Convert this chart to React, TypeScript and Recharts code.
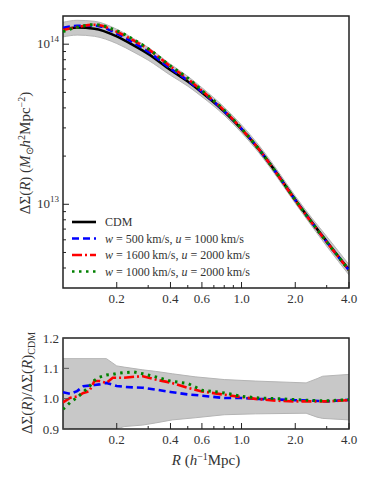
import React from 'react';
import {
  ComposedChart, Line, Area, XAxis, YAxis, ReferenceArea, Legend, Label,
} from 'recharts';

// radius grid for the upper panel (h^-1 Mpc)
const rTop = [0.1, 0.12, 0.15, 0.2, 0.25, 0.3, 0.4, 0.5, 0.6, 0.8, 1.0, 1.25, 1.6, 2.0, 2.5, 3.0, 3.5, 4.0];
const sigmaCdm = [1.24e14, 1.27e14, 1.25e14, 1.12e14, 9.8e13, 8.7e13, 6.9e13, 5.85e13, 5.0e13, 3.8e13, 2.95e13, 2.21e13, 1.525e13, 1.067e13, 7.63e12, 5.86e12, 4.7e12, 3.89e12];
const sigmaW500 = [1.266e14, 1.302e14, 1.306e14, 1.167e14, 1.016e14, 8.99e13, 7.05e13, 5.93e13, 5.05e13, 3.81e13, 2.96e13, 2.21e13, 1.52e13, 1.062e13, 7.58e12, 5.81e12, 4.67e12, 3.87e12];
const sigmaW1600 = [1.225e14, 1.279e14, 1.323e14, 1.197e14, 1.051e14, 9.31e13, 7.27e13, 6.06e13, 5.12e13, 3.85e13, 2.96e13, 2.21e13, 1.515e13, 1.057e13, 7.56e12, 5.81e12, 4.67e12, 3.87e12];
const sigmaW1000 = [1.197e14, 1.275e14, 1.325e14, 1.213e14, 1.066e14, 9.38e13, 7.3e13, 6.14e13, 5.14e13, 3.87e13, 2.97e13, 2.21e13, 1.525e13, 1.064e13, 7.58e12, 5.82e12, 4.68e12, 3.88e12];
const sigmaLo = [1.11e14, 1.14e14, 1.12e14, 1.01e14, 8.9e13, 7.95e13, 6.4e13, 5.47e13, 4.7e13, 3.6e13, 2.8e13, 2.1e13, 1.45e13, 1.015e13, 7.2e12, 5.47e12, 4.38e12, 3.62e12];
const sigmaHi = [1.37e14, 1.41e14, 1.39e14, 1.24e14, 1.08e14, 9.55e13, 7.5e13, 6.3e13, 5.35e13, 4.04e13, 3.13e13, 2.34e13, 1.61e13, 1.125e13, 8.1e12, 6.3e12, 5.07e12, 4.2e12];

// ratio panel
const rRatio = [0.1, 0.11, 0.12, 0.13, 0.14, 0.15, 0.16, 0.175, 0.19, 0.2, 0.22, 0.25, 0.28, 0.33, 0.4, 0.5, 0.6, 0.8, 1.0, 1.25, 1.6, 2.0, 2.5, 3.0, 3.5, 4.0];
const ratioW500 = [1.021, 1.016, 1.025, 1.041, 1.043, 1.045, 1.047, 1.052, 1.046, 1.042, 1.039, 1.037, 1.036, 1.03, 1.022, 1.014, 1.01, 1.002, 1.002, 0.999, 0.997, 0.995, 0.993, 0.991, 0.994, 0.996];
const ratioW1600 = [0.988, 1.003, 1.007, 1.019, 1.024, 1.058, 1.058, 1.052, 1.069, 1.069, 1.069, 1.072, 1.074, 1.063, 1.053, 1.036, 1.024, 1.013, 1.005, 0.998, 0.993, 0.991, 0.991, 0.991, 0.993, 0.995];
const ratioW1000 = [0.965, 0.988, 1.004, 1.022, 1.039, 1.06, 1.071, 1.078, 1.08, 1.083, 1.086, 1.088, 1.082, 1.072, 1.058, 1.05, 1.028, 1.019, 1.008, 1.002, 1.0, 0.997, 0.994, 0.993, 0.995, 0.997];
const rBand = [0.1, 0.175, 0.2, 0.22, 0.28, 0.33, 0.41, 0.55, 0.8, 1.2, 2.3, 2.65, 2.85, 4.0];
const bandLo = [0.9, 0.9, 0.9, 0.908, 0.913, 0.92, 0.93, 0.937, 0.947, 0.95, 0.952, 0.939, 0.935, 0.93];
const bandHi = [1.132, 1.132, 1.108, 1.104, 1.095, 1.09, 1.082, 1.072, 1.063, 1.058, 1.052, 1.066, 1.074, 1.08];

const xTicks = [0.2, 0.3, 0.4, 0.5, 0.6, 0.7, 0.8, 0.9, 1.0, 2.0, 3.0, 4.0];
const xLabelled = [0.2, 0.4, 0.6, 1.0, 2.0, 4.0];
const yTicksTop = [4e12, 5e12, 6e12, 7e12, 8e12, 9e12, 1e13, 2e13, 3e13, 4e13, 5e13, 6e13, 7e13, 8e13, 9e13, 1e14];
const yTicksRatio = [0.9, 1.0, 1.1, 1.2];

const topData = rTop.map((r, i) => ({
  r, cdm: sigmaCdm[i], a: sigmaW500[i], b: sigmaW1600[i], c: sigmaW1000[i], band: [sigmaLo[i], sigmaHi[i]],
}));
const ratioData = rRatio.map((r, i) => ({ r, a: ratioW500[i], b: ratioW1600[i], c: ratioW1000[i] }));
const bandData = rBand.map((r, i) => ({ r, band: [bandLo[i], bandHi[i]] }));

const serif = 'Liberation Serif, Times New Roman, serif';
const ink = '#222';

const XTick = (props: any) => {
  const { x, y, payload } = props;
  const major = xLabelled.includes(payload.value);
  return (
    <g>
      <line x1={x} y1={y} x2={x} y2={y - (major ? 6 : 3)} stroke={ink} strokeWidth={1} />
      {major && (
        <text x={x} y={y + 15} textAnchor="middle" style={{ fontFamily: serif }} fontSize={13} fill="#333">
          {payload.value.toFixed(1)}
        </text>
      )}
    </g>
  );
};

const LogYTick = (props: any) => {
  const { x, y, payload } = props;
  const v = payload.value;
  const major = v === 1e13 || v === 1e14;
  return (
    <g>
      <line x1={x} y1={y} x2={x + (major ? 6 : 3)} y2={y} stroke={ink} strokeWidth={1} />
      {major && (
        <text x={x - 4} y={y + 4} textAnchor="end" style={{ fontFamily: serif }} fontSize={13} fill="#333">
          10<tspan dy={-6} fontSize={9}>{Math.round(Math.log10(v))}</tspan>
        </text>
      )}
    </g>
  );
};

const RatioYTick = (props: any) => {
  const { x, y, payload } = props;
  return (
    <g>
      <line x1={x} y1={y} x2={x + 6} y2={y} stroke="#555" strokeWidth={1} />
      <text x={x - 4} y={y + 4.5} textAnchor="end" style={{ fontFamily: serif }} fontSize={13} fill="#333">
        {payload.value.toFixed(1)}
      </text>
    </g>
  );
};

const legendItems = [
  { key: 'cdm', color: '#000', dash: undefined as string | undefined, w: null as string | null, u: null as string | null },
  { key: 'a', color: '#0000ff', dash: '7 4', w: '500', u: '1000' },
  { key: 'b', color: '#ff0000', dash: '10 3 2 3', w: '1600', u: '2000' },
  { key: 'c', color: '#008000', dash: '2.5 4.5', w: '1000', u: '2000' },
];

const renderLegend = () => (
  <svg width={210} height={66} style={{ display: 'block' }}>
    {legendItems.map((it, i) => {
      const cy = 8 + i * 16.5;
      return (
        <g key={it.key}>
          <line x1={4} x2={28} y1={cy} y2={cy} stroke={it.color} strokeWidth={2.6} strokeDasharray={it.dash} />
          <text x={37} y={cy + 4} style={{ fontFamily: serif }} fontSize={12} fill="#333">
            {it.w === null ? 'CDM' : (
              <>
                <tspan fontStyle="italic">w</tspan>
                {` = ${it.w}\u2009km/s, `}
                <tspan fontStyle="italic">u</tspan>
                {` = ${it.u}\u2009km/s`}
              </>
            )}
          </text>
        </g>
      );
    })}
  </svg>
);

const TopYTitle = () => (
  <text transform="translate(30,153) rotate(-90)" textAnchor="middle" style={{ fontFamily: serif }} fontSize={15} fill="#333">
    ΔΣ(<tspan fontStyle="italic">R</tspan>) (<tspan fontStyle="italic">M</tspan>
    <tspan fontSize={10} dy={3}>⊙</tspan>
    <tspan dy={-3} fontStyle="italic">h</tspan>
    <tspan fontSize={10} dy={-5}>2</tspan>
    <tspan dy={5}>Mpc</tspan>
    <tspan fontSize={10} dy={-5}>−2</tspan>
    <tspan dy={5}>)</tspan>
  </text>
);

const RatioYTitle = () => (
  <text transform="translate(32,63) rotate(-90)" textAnchor="middle" style={{ fontFamily: serif }} fontSize={15} fill="#333">
    ΔΣ(<tspan fontStyle="italic">R</tspan>)/ΔΣ(<tspan fontStyle="italic">R</tspan>)
    <tspan fontSize={10} dy={3}>CDM</tspan>
  </text>
);

const XTitle = () => (
  <text x={206} y={145} textAnchor="middle" style={{ fontFamily: serif }} fontSize={15} fill="#333">
    <tspan fontStyle="italic">R</tspan> (<tspan fontStyle="italic">h</tspan>
    <tspan fontSize={10} dy={-5}>−1</tspan>
    <tspan dy={5}>Mpc)</tspan>
  </text>
);

export default function App() {
  return (
    <div style={{ position: 'absolute', left: 0, top: 0, width: 374, height: 481, background: '#fff' }}>
      <div style={{ position: 'absolute', left: 0, top: 0 }}>
        <ComposedChart width={374} height={320} data={topData} margin={{ top: 16, right: 25, bottom: 0, left: 0 }}>
          <XAxis dataKey="r" type="number" scale="log" domain={[0.1, 4]} allowDataOverflow ticks={xTicks}
            tick={<XTick />} tickLine={false} tickSize={0} tickMargin={0} height={32} axisLine={false} interval={0} />
          <YAxis type="number" scale="log" domain={[3e12, 1.5e14]} allowDataOverflow ticks={yTicksTop}
            tick={<LogYTick />} tickLine={false} tickSize={0} tickMargin={0} width={63} axisLine={false} interval={0}>
            <Label content={<TopYTitle />} />
          </YAxis>
          <Area dataKey="band" type="monotone" fill="#c8c8c8" fillOpacity={1} stroke="#b4b4b4" strokeWidth={1} isAnimationActive={false} />
          <Line dataKey="cdm" type="monotone" stroke="#000" strokeWidth={2.6} dot={false} isAnimationActive={false} />
          <Line dataKey="a" type="monotone" stroke="#0000ff" strokeWidth={2.6} strokeDasharray="7 4" dot={false} isAnimationActive={false} />
          <Line dataKey="b" type="monotone" stroke="#ff0000" strokeWidth={2.6} strokeDasharray="10 3 2 3" dot={false} isAnimationActive={false} />
          <Line dataKey="c" type="monotone" stroke="#008000" strokeWidth={3} strokeDasharray="2.5 4.5" dot={false} isAnimationActive={false} />
          <ReferenceArea x1={0.1} x2={4} y1={3e12} y2={1.5e14} fill="none" stroke={ink} strokeWidth={1.5} ifOverflow="visible" />
          <Legend content={renderLegend} layout="vertical" align="center" verticalAlign="middle"
            wrapperStyle={{ left: 68, top: 214, width: 210 }} />
        </ComposedChart>
      </div>
      <div style={{ position: 'absolute', left: 0, top: 320 }}>
        <ComposedChart width={374} height={161} margin={{ top: 18, right: 25, bottom: 0, left: 0 }}>
          <XAxis dataKey="r" type="number" scale="log" domain={[0.1, 4]} allowDataOverflow ticks={xTicks}
            tick={<XTick />} tickLine={false} tickSize={0} tickMargin={0} height={52} axisLine={false} interval={0}>
            <Label content={<XTitle />} />
          </XAxis>
          <YAxis type="number" domain={[0.9, 1.2]} allowDataOverflow ticks={yTicksRatio}
            tick={<RatioYTick />} tickLine={false} tickSize={0} tickMargin={0} width={63} axisLine={false} interval={0}>
            <Label content={<RatioYTitle />} />
          </YAxis>
          <Area data={bandData} dataKey="band" type="linear" fill="#c8c8c8" fillOpacity={1} stroke="#b4b4b4" strokeWidth={1} isAnimationActive={false} />
          <Line data={ratioData} dataKey="a" type="linear" stroke="#0000ff" strokeWidth={2.6} strokeDasharray="7 4" dot={false} isAnimationActive={false} />
          <Line data={ratioData} dataKey="b" type="linear" stroke="#ff0000" strokeWidth={2.6} strokeDasharray="10 3 2 3" dot={false} isAnimationActive={false} />
          <Line data={ratioData} dataKey="c" type="linear" stroke="#008000" strokeWidth={3} strokeDasharray="2.5 4.5" dot={false} isAnimationActive={false} />
          <ReferenceArea x1={0.1} x2={4} y1={0.9} y2={1.2} fill="none" stroke={ink} strokeWidth={1.5} ifOverflow="visible" />
        </ComposedChart>
      </div>
    </div>
  );
}
